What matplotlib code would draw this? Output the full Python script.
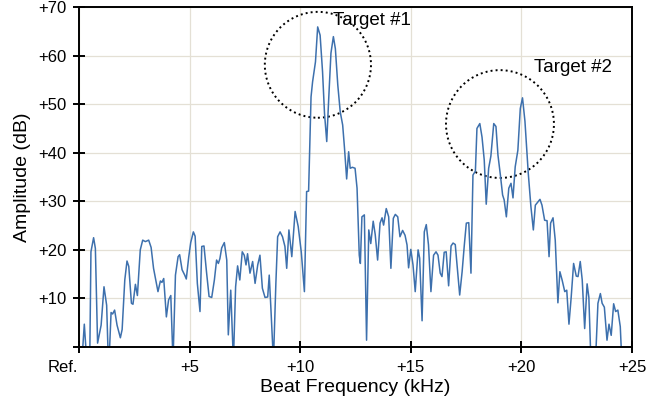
import numpy as np
import matplotlib
matplotlib.use('Agg')
import matplotlib.pyplot as plt
from matplotlib.patches import Ellipse
from matplotlib.transforms import ScaledTranslation

plt.rcParams['font.family'] = ['Liberation Sans', 'DejaVu Sans']

# ---------- data ----------
freq_khz = [
    0.10, 0.24, 0.38, 0.48, 0.54, 0.66, 0.74, 0.84, 1.00, 1.13, 1.25, 1.34, 1.45, 1.52, 1.61,
    1.72, 1.87, 1.95, 2.07, 2.17, 2.25, 2.37, 2.44, 2.55, 2.64, 2.77, 2.88, 3.00, 3.15, 3.26,
    3.37, 3.57, 3.68, 3.75, 3.83, 3.95, 4.05, 4.15, 4.25, 4.36, 4.48, 4.55, 4.66, 4.78, 4.85,
    4.96, 5.05, 5.17, 5.25, 5.35, 5.47, 5.55, 5.65, 5.77, 5.88, 6.00, 6.12, 6.22, 6.30, 6.37,
    6.45, 6.57, 6.68, 6.75, 6.86, 6.98, 7.08, 7.17, 7.27, 7.38, 7.47, 7.55, 7.62, 7.73, 7.85,
    7.96, 8.08, 8.18, 8.29, 8.41, 8.53, 8.60, 8.68, 8.79, 8.90, 8.98, 9.09, 9.20, 9.31, 9.39,
    9.49, 9.62, 9.77, 9.91, 10.05, 10.19, 10.29, 10.38, 10.49, 10.56, 10.69, 10.79, 10.90, 11.01, 11.10,
    11.20, 11.29, 11.39, 11.50, 11.59, 11.70, 11.81, 11.92, 12.00, 12.10, 12.19, 12.26, 12.36, 12.48, 12.57,
    12.67, 12.72, 12.79, 12.90, 13.00, 13.10, 13.19, 13.30, 13.39, 13.50, 13.61, 13.70, 13.77, 13.89, 14.00,
    14.10, 14.21, 14.30, 14.41, 14.51, 14.63, 14.74, 14.83, 14.90, 15.00, 15.10, 15.20, 15.33, 15.40, 15.51,
    15.61, 15.70, 15.80, 15.91, 16.03, 16.14, 16.23, 16.33, 16.41, 16.51, 16.60, 16.71, 16.82, 16.91, 17.01,
    17.12, 17.21, 17.32, 17.42, 17.51, 17.62, 17.72, 17.81, 17.92, 17.99, 18.12, 18.22, 18.32, 18.41, 18.52,
    18.62, 18.75, 18.85, 18.94, 19.05, 19.15, 19.22, 19.32, 19.43, 19.53, 19.62, 19.72, 19.84, 19.95, 20.05,
    20.16, 20.31, 20.43, 20.54, 20.63, 20.75, 20.84, 20.93, 21.05, 21.16, 21.25, 21.32, 21.43, 21.53, 21.65,
    21.74, 21.84, 21.96, 22.05, 22.15, 22.25, 22.36, 22.48, 22.56, 22.66, 22.75, 22.86, 22.97, 23.05, 23.15,
    23.34, 23.46, 23.57, 23.65, 23.75, 23.87, 23.96, 24.06, 24.17, 24.26, 24.36, 24.47, 24.55,
]
amp_db = [
    -5.0, 4.7, -5.0, -5.0, 19.6, 22.5, 20.3, 0.8, 4.5, 12.4, 8.6, -5.0, 7.1, 6.8, 7.6,
    4.5, 1.9, 3.6, 13.8, 17.7, 16.6, 9.0, 8.8, 12.9, 10.6, 20.0, 22.0, 21.7, 22.0, 20.5,
    16.2, 11.4, 13.6, 13.3, 14.1, 6.2, 9.7, 10.6, -3.0, 14.8, 18.6, 19.0, 15.9, 14.8, 14.0,
    18.5, 21.5, 23.7, 22.8, 13.1, 7.3, 20.7, 20.8, 15.2, 10.4, 10.2, 13.8, 17.9, 17.2, 18.2,
    20.4, 21.5, 17.9, 2.5, 11.7, -3.0, 12.4, 16.7, 13.8, 19.6, 18.9, 16.9, 19.2, 15.2, 17.6,
    13.1, 16.9, 18.9, 12.1, 10.2, 10.3, 14.8, 7.5, -3.0, 13.1, 22.7, 23.7, 22.7, 20.7, 16.2,
    24.1, 18.6, 27.9, 24.8, 19.5, 11.4, 32.0, 32.1, 51.5, 54.6, 58.7, 65.9, 64.2, 56.7, 48.0,
    42.3, 51.2, 60.5, 63.9, 61.4, 53.9, 48.4, 45.7, 41.1, 34.6, 40.2, 36.8, 37.0, 36.8, 32.7,
    18.9, 17.2, 26.8, 27.2, 1.4, 24.1, 21.3, 25.9, 23.2, 17.9, 25.5, 26.6, 25.1, 28.5, 26.8,
    16.2, 26.5, 27.3, 26.8, 22.7, 24.0, 23.0, 21.0, 16.3, 20.1, 16.9, 11.4, 20.0, 18.3, 5.4,
    23.7, 25.2, 21.0, 11.4, 18.9, 19.6, 18.9, 15.2, 14.5, 19.5, 19.6, 12.6, 20.8, 21.4, 21.1,
    15.5, 10.7, 15.5, 21.0, 25.5, 25.6, 15.2, 35.4, 36.2, 45.0, 46.0, 43.2, 38.5, 29.4, 36.8,
    39.3, 46.0, 45.4, 39.5, 35.4, 31.3, 30.3, 26.8, 32.7, 33.7, 30.7, 37.1, 40.5, 49.1, 51.3,
    46.5, 35.8, 28.9, 24.1, 29.2, 29.9, 30.4, 29.2, 26.1, 26.0, 18.6, 25.5, 26.6, 22.0, 9.1,
    15.5, 13.8, 11.4, 11.7, 4.7, 10.2, 17.2, 14.6, 14.5, 17.6, 13.8, 3.8, 13.0, 10.2, -4.0,
    -4.0, 9.0, 11.0, 9.0, 8.2, 1.4, 4.7, 2.4, 8.9, 7.3, 7.6, 4.2, -4.0,
]

x_ticks = [0, 5, 10, 15, 20, 25]
x_ticklabels = ['Ref.', '+5', '+10', '+15', '+20', '+25']
y_ticks = [0, 10, 20, 30, 40, 50, 60, 70]
y_ticklabels = ['', '+10', '+20', '+30', '+40', '+50', '+60', '+70']

# (centre x, centre y, width kHz, height dB, label, label x, label y)
targets = [
    (10.8, 58.1, 4.8, 21.8, 'Target #1', 11.5, 67.3),
    (19.03, 45.9, 4.88, 22.2, 'Target #2', 20.55, 57.6),
]

# ---------- plot ----------
fig = plt.figure(figsize=(6.67, 4.0), dpi=100)
ax = fig.add_axes([79 / 667, 1 - 347 / 400, (632 - 79) / 667, (347 - 7) / 400])

ax.plot(freq_khz, amp_db, color='#3d70ad', lw=1.1)

for cx, cy, w, h, label, tx, ty in targets:
    ax.add_patch(Ellipse((cx, cy), w, h, fill=False, edgecolor='black',
                         lw=1.4, linestyle=(0, (1, 1.6)), clip_on=False))
    ax.text(tx, ty, label, fontsize=13.5, va='center', ha='left')

ax.set_xlim(0, 25)
ax.set_ylim(0, 70)
ax.set_xticks(x_ticks)
ax.set_xticklabels(x_ticklabels)
ax.set_yticks(y_ticks)
ax.set_yticklabels(y_ticklabels)
ax.tick_params(direction='inout', length=8, width=1.4, labelsize=12, pad=5)

# "Ref." sits a little to the left of its tick
ref_lbl = ax.get_xticklabels()[0]
ref_lbl.set_transform(ref_lbl.get_transform() + ScaledTranslation(-0.16, 0, fig.dpi_scale_trans))

ax.grid(color='#e4e0d5', lw=0.9)
ax.set_axisbelow(True)
for s in ax.spines.values():
    s.set_linewidth(1.4)

ax.set_xlabel('Beat Frequency (kHz)', fontsize=14, labelpad=3)
ax.set_ylabel('Amplitude (dB)', fontsize=14, labelpad=5)

fig.savefig('out.png', dpi=100)
